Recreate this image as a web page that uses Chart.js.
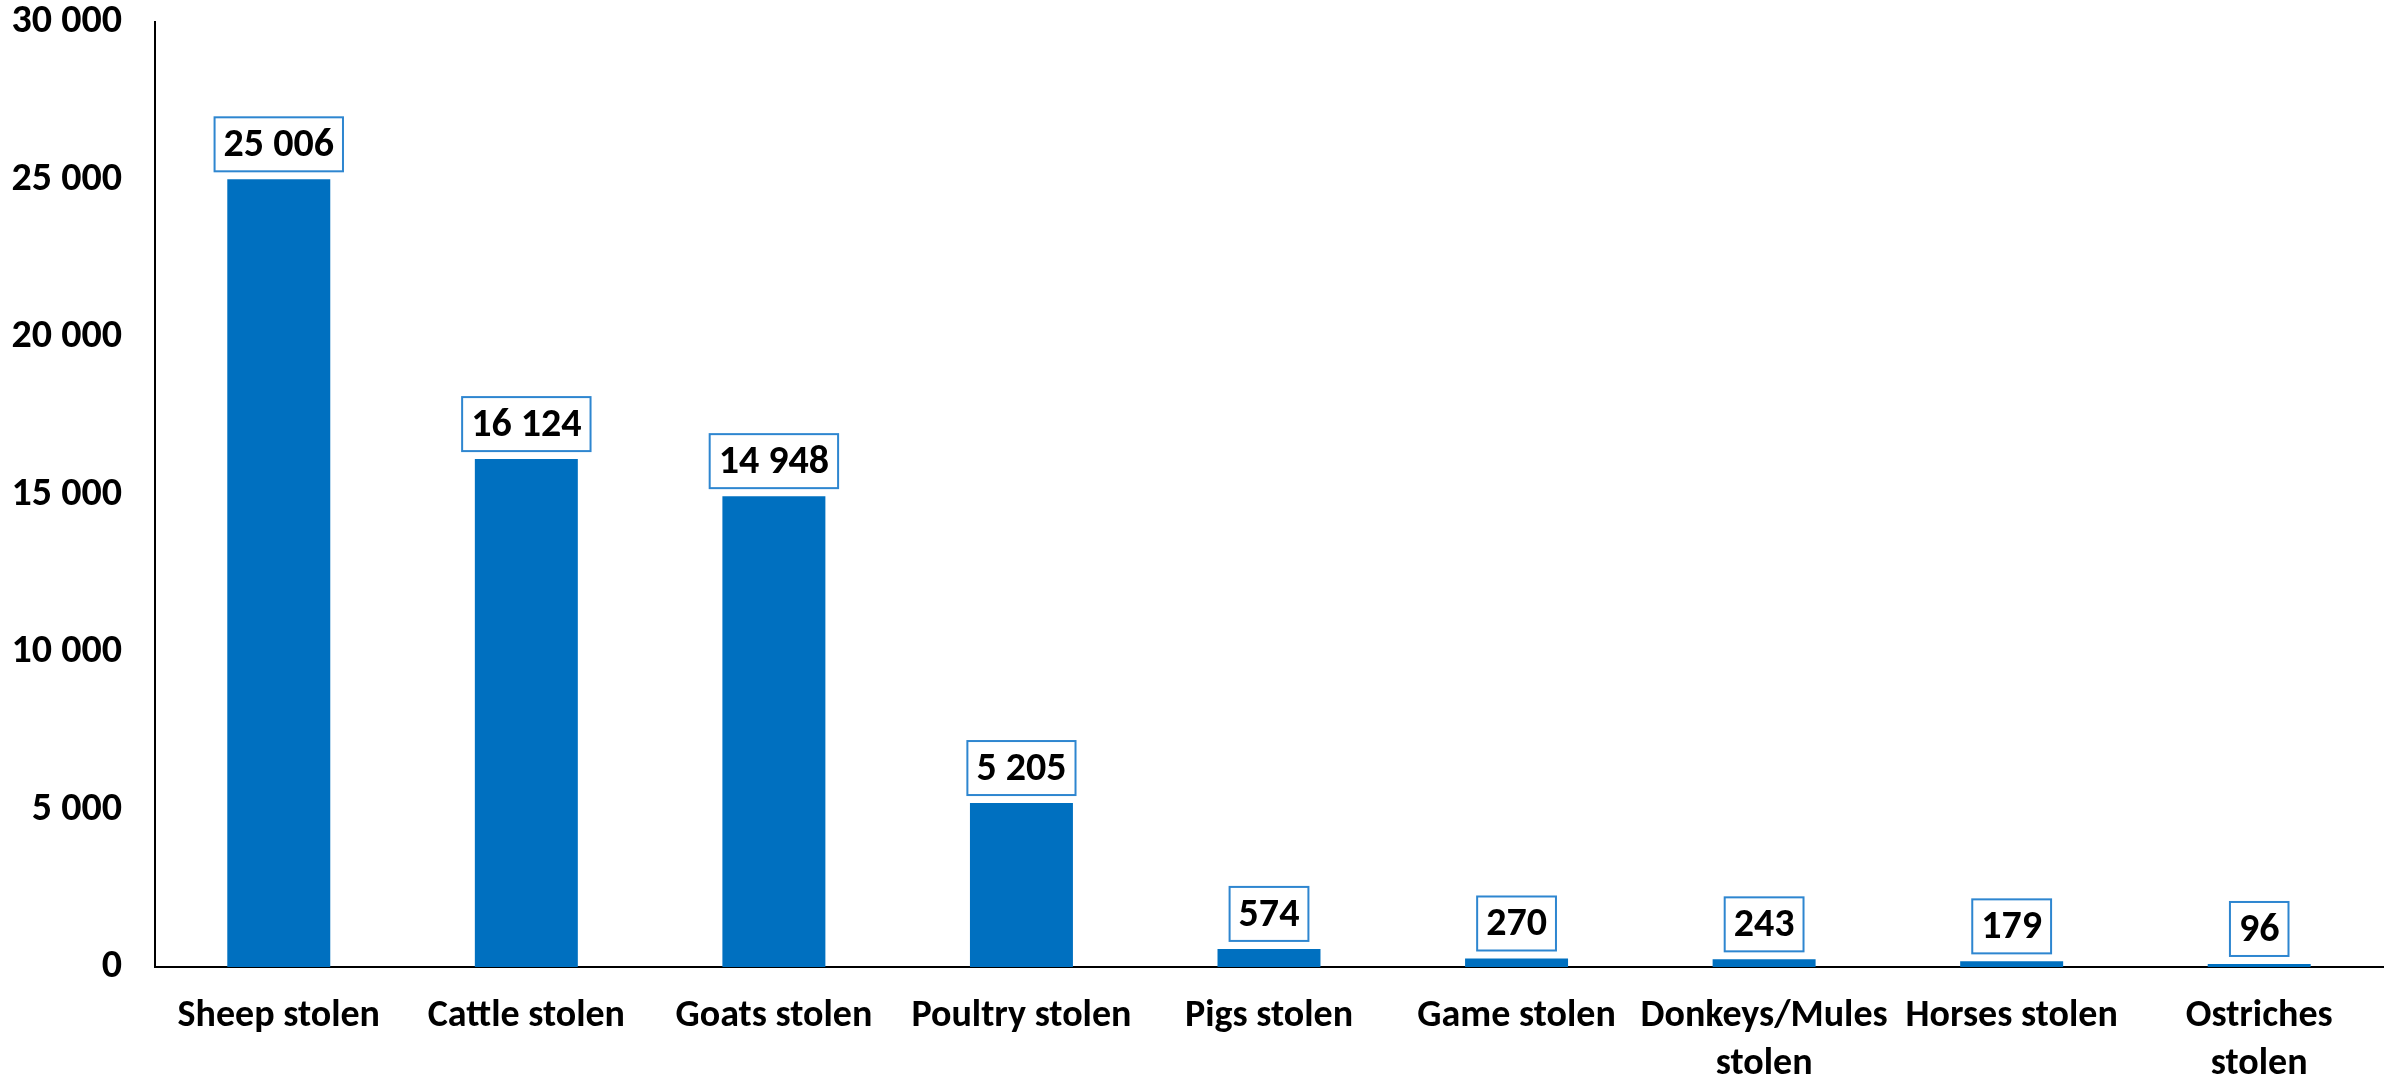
<!DOCTYPE html>
<html>
<head>
<meta charset="utf-8">
<script src="https://cdn.jsdelivr.net/npm/chart.js@4.4.1/dist/chart.umd.min.js"></script>
<style>
    html, body { margin: 0; padding: 0; background: #fff; }
    #wrap { width: 2392px; height: 1080px; }
</style>
</head>
<body>
<div id="wrap"><canvas id="stockTheftChart" width="2392" height="1080"></canvas></div>
<script>
// Stock theft by type of animal
const categories = ['Sheep stolen', 'Cattle stolen', 'Goats stolen', 'Poultry stolen', 'Pigs stolen',
    'Game stolen', ['Donkeys/Mules', 'stolen'], 'Horses stolen', ['Ostriches', 'stolen']];
const animalsStolen = [25006, 16124, 14948, 5205, 574, 270, 243, 179, 96];
const yTicks = [0, 5000, 10000, 15000, 20000, 25000, 30000];

const FONT = "Carlito, Lato, 'Open Sans', sans-serif";
const BLUE = '#0070C0';

function formatNumber(n) {
    return String(n).replace(/\B(?=(\d{3})+(?!\d))/g, ' ');
}

// boxed value labels above each bar
const boxedLabels = {
    id: 'boxedLabels',
    afterDatasetsDraw(chart) {
        const ctx = chart.ctx;
        const meta = chart.getDatasetMeta(0);
        ctx.save();
        ctx.font = 'bold 40px ' + FONT;
        ctx.textAlign = 'center';
        ctx.textBaseline = 'middle';
        meta.data.forEach((bar, i) => {
            const text = formatNumber(animalsStolen[i]);
            const w = ctx.measureText(text).width + 18;
            const h = 54;
            const bottom = bar.y - 8;
            ctx.fillStyle = '#fff';
            ctx.fillRect(bar.x - w / 2, bottom - h, w, h);
            ctx.strokeStyle = '#2E86D0';
            ctx.lineWidth = 2;
            ctx.strokeRect(bar.x - w / 2, bottom - h, w, h);
            ctx.fillStyle = '#000';
            ctx.fillText(text, bar.x, bottom - h / 2 + 2);
        });
        ctx.restore();
    }
};

new Chart(document.getElementById('stockTheftChart').getContext('2d'), {
    type: 'bar',
    data: {
        labels: categories,
        datasets: [{
            data: animalsStolen,
            backgroundColor: BLUE,
            borderWidth: 0,
            barPercentage: 0.416,
            categoryPercentage: 1
        }]
    },
    options: {
        responsive: false,
        animation: false,
        devicePixelRatio: 1,
        layout: { padding: { top: 0, right: 9, left: 0, bottom: 0 } },
        plugins: { legend: { display: false }, tooltip: { enabled: false } },
        scales: {
            x: {
                grid: { display: false, drawTicks: false },
                border: { color: '#000', width: 2 },
                ticks: {
                    color: '#000',
                    padding: 26,
                    maxRotation: 0,
                    autoSkip: false,
                    font: { family: FONT, size: 38, weight: 'bold', lineHeight: 1.26 }
                },
                afterFit: scale => {
                    scale.height = 113;
                    scale.paddingLeft = 0;
                    scale.paddingRight = 0;
                }
            },
            y: {
                min: 0,
                max: 30000,
                grid: { display: false, drawTicks: false },
                border: { color: '#000', width: 2 },
                afterBuildTicks: scale => { scale.ticks = yTicks.map(v => ({ value: v })); },
                ticks: {
                    color: '#000',
                    padding: 33,
                    callback: v => formatNumber(v),
                    font: { family: FONT, size: 40, weight: 'bold' }
                },
                afterFit: scale => {
                    scale.width = 155;
                    scale.paddingTop = 22;
                    scale.paddingBottom = 0;
                }
            }
        }
    },
    plugins: [boxedLabels]
});
</script>
</body>
</html>
